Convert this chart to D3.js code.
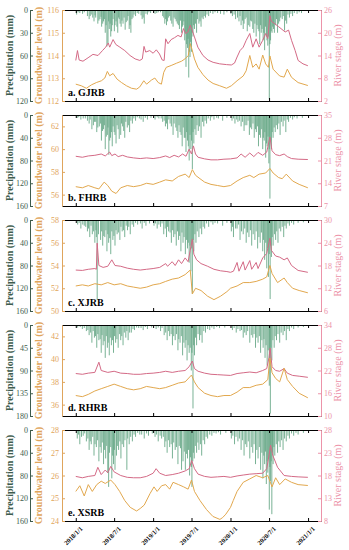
<!DOCTYPE html>
<html><head><meta charset="utf-8">
<script src="https://cdn.jsdelivr.net/npm/d3@7"></script>
<style>
body{margin:0;background:#fff}
svg{display:block;font-family:"Liberation Serif","Times New Roman",serif}
</style></head><body>
<svg id="chart" width="349" height="550"></svg>
<script>
const xTickLabels = ["2018/1/1","2018/7/1","2019/1/1","2019/7/1","2020/1/1","2020/7/1","2021/1/1"];
const panelNames = ["a. GJRB","b. FHRB","c. XJRB","d. RHRB","e. XSRB"];
const precipTicks = [[0,30,60,90,120],[0,40,80,120,160],[0,40,80,120,160],[0,45,90,135,180],[0,40,80,120,160]];
const gwDomains = [[112,116],[55,63],[50,58],[35,43],[24,28]];
const gwTicks = [[112,113,114,115,116],[56,58,60,62],[50,52,54,56,58],[36,38,40,42],[24,25,26,27,28]];
const rsTicks = [[2,8,14,20,26],[7,14,21,28,35],[6,12,18,24,30],[10,16,22,28,34],[8,13,18,23,28]];

// ---- a. GJRB ----
const rainA = [["2018-01-05",6],["2018-01-20",4],["2018-02-10",3],["2018-02-25",8],["2018-03-05",12],["2018-03-15",6],["2018-03-28",15],["2018-04-05",10],["2018-04-15",18],["2018-04-25",12],["2018-05-03",22],["2018-05-12",15],["2018-05-20",30],["2018-05-28",48],["2018-06-02",44],["2018-06-08",25],["2018-06-15",35],["2018-06-22",20],["2018-07-02",28],["2018-07-10",15],["2018-07-18",30],["2018-07-25",12],["2018-08-03",22],["2018-08-12",18],["2018-08-22",26],["2018-09-01",14],["2018-09-10",25],["2018-09-18",30],["2018-09-28",10],["2018-10-10",8],["2018-10-25",5],["2018-11-10",12],["2018-11-20",18],["2018-12-05",6],["2018-12-20",4],
["2019-01-10",5],["2019-01-25",3],["2019-02-15",8],["2019-02-25",18],["2019-03-05",20],["2019-03-15",10],["2019-03-25",14],["2019-04-05",22],["2019-04-15",12],["2019-04-25",18],["2019-05-05",25],["2019-05-15",30],["2019-05-22",20],["2019-05-30",40],["2019-06-05",75],["2019-06-12",50],["2019-06-18",89],["2019-06-24",62],["2019-07-01",55],["2019-07-08",35],["2019-07-15",25],["2019-07-25",30],["2019-08-05",18],["2019-08-15",22],["2019-08-25",12],["2019-09-05",10],["2019-09-20",8],["2019-10-10",5],["2019-11-01",4],["2019-12-01",6],
["2020-01-10",8],["2020-01-25",12],["2020-02-10",15],["2020-02-20",20],["2020-03-01",25],["2020-03-10",12],["2020-03-20",28],["2020-04-01",22],["2020-04-10",15],["2020-04-20",30],["2020-05-01",35],["2020-05-10",25],["2020-05-18",45],["2020-05-25",30],["2020-06-03",40],["2020-06-10",53],["2020-06-18",35],["2020-06-25",47],["2020-07-02",118],["2020-07-08",40],["2020-07-15",30],["2020-07-22",25],["2020-08-01",20],["2020-08-10",30],["2020-08-20",15],["2020-09-01",12],["2020-09-12",27],["2020-09-22",18],["2020-10-05",10],["2020-10-20",8],["2020-11-10",5],["2020-12-01",4],
["2018-01-12",3],["2018-02-02",5],["2018-03-10",8],["2018-03-22",10],["2018-04-02",7],["2018-04-20",14],["2018-04-30",9],["2018-05-08",18],["2018-05-16",12],["2018-05-24",20],["2018-06-05",15],["2018-06-12",18],["2018-06-19",28],["2018-06-26",12],["2018-07-05",20],["2018-07-14",22],["2018-07-22",10],["2018-07-29",18],["2018-08-07",14],["2018-08-17",10],["2018-08-27",16],["2018-09-05",8],["2018-09-14",20],["2018-09-23",12],["2018-10-03",6],["2018-10-18",4],["2018-11-05",7],["2018-11-15",10],["2018-11-28",5],["2018-12-12",3],
["2019-01-18",4],["2019-02-05",3],["2019-02-20",10],["2019-03-01",12],["2019-03-10",15],["2019-03-20",8],["2019-03-30",18],["2019-04-10",10],["2019-04-20",15],["2019-04-30",20],["2019-05-10",14],["2019-05-19",22],["2019-05-26",15],["2019-06-02",30],["2019-06-08",45],["2019-06-15",38],["2019-06-21",55],["2019-06-27",42],["2019-07-04",30],["2019-07-11",20],["2019-07-20",18],["2019-07-29",12],["2019-08-10",15],["2019-08-20",10],["2019-08-30",8],["2019-09-12",6],["2019-09-28",4],["2019-10-20",3],["2019-11-15",5],["2019-12-15",3],
["2020-01-03",5],["2020-01-18",6],["2020-02-03",10],["2020-02-15",8],["2020-02-27",14],["2020-03-05",18],["2020-03-15",10],["2020-03-25",20],["2020-04-05",14],["2020-04-15",25],["2020-04-25",18],["2020-05-05",20],["2020-05-14",28],["2020-05-22",20],["2020-05-29",25],["2020-06-06",30],["2020-06-14",22],["2020-06-21",40],["2020-06-28",35],["2020-07-05",45],["2020-07-11",28],["2020-07-18",22],["2020-07-26",30],["2020-08-05",12],["2020-08-15",18],["2020-08-25",10],["2020-09-06",8],["2020-09-17",14],["2020-09-28",6],["2020-10-12",5],["2020-10-28",4],["2020-11-20",3]];
const gwA = [["2018-01-01",112.74],["2018-01-27",112.67],["2018-02-20",112.56],["2018-03-16",112.71],["2018-04-08",112.81],["2018-05-02",112.89],["2018-05-18",113.01],["2018-05-30",113.3],["2018-06-10",113.11],["2018-06-26",113.21],["2018-07-15",112.96],["2018-08-05",112.81],["2018-08-28",112.67],["2018-09-21",112.56],["2018-10-15",112.52],["2018-10-30",112.62],["2018-11-18",112.89],["2018-12-01",112.74],["2018-12-24",112.92],["2019-01-09",113.01],["2019-01-25",112.81],["2019-02-09",112.74],["2019-02-20",113.26],["2019-03-04",113.48],["2019-03-27",113.56],["2019-04-21",113.66],["2019-05-15",113.75],["2019-05-31",113.85],["2019-06-16",114.0],["2019-06-25",114.52],["2019-07-04",114.25],["2019-07-15",113.85],["2019-07-31",113.48],["2019-08-24",113.16],["2019-09-17",112.92],["2019-10-11",112.77],["2019-11-11",112.67],["2019-12-13",112.56],["2020-01-05",112.67],["2020-02-01",112.89],["2020-03-01",113.1],["2020-03-15",113.33],["2020-04-01",114.0],["2020-04-15",113.48],["2020-05-01",113.63],["2020-05-15",113.4],["2020-06-01",114.02],["2020-06-15",113.63],["2020-06-28",113.48],["2020-07-05",113.98],["2020-07-20",113.4],["2020-08-20",113.1],["2020-09-10",113.05],["2020-09-25",113.4],["2020-10-15",113.04],["2020-11-15",112.81],["2020-12-31",112.68]];
const riverA = [["2018-01-01",12.7],["2018-01-09",15.3],["2018-01-17",12.8],["2018-02-04",12.5],["2018-02-28",13.4],["2018-03-23",14.3],["2018-04-16",14.0],["2018-05-07",15.3],["2018-05-22",16.2],["2018-06-03",17.3],["2018-06-10",16.2],["2018-06-26",18.2],["2018-07-09",16.9],["2018-07-28",16.2],["2018-08-20",15.3],["2018-09-14",14.0],["2018-10-08",13.1],["2018-10-30",12.7],["2018-11-11",13.1],["2018-11-19",16.4],["2018-11-27",14.9],["2018-12-16",15.3],["2019-01-01",14.6],["2019-01-16",15.5],["2019-01-31",14.4],["2019-02-13",12.8],["2019-02-22",12.7],["2019-03-01",18.4],["2019-03-12",17.1],["2019-03-27",18.2],["2019-04-12",18.7],["2019-04-28",19.3],["2019-05-13",18.9],["2019-05-24",21.1],["2019-06-03",19.8],["2019-06-14",20.2],["2019-06-25",22.0],["2019-07-04",20.7],["2019-07-15",18.9],["2019-07-31",16.2],["2019-08-24",14.0],["2019-09-17",12.8],["2019-10-11",12.2],["2019-11-11",11.8],["2019-12-13",11.6],["2020-01-05",11.5],["2020-01-20",12.0],["2020-02-01",13.6],["2020-02-15",15.3],["2020-03-01",16.2],["2020-03-15",18.0],["2020-04-01",19.8],["2020-04-15",16.2],["2020-05-01",18.4],["2020-05-15",16.2],["2020-06-01",18.0],["2020-06-15",19.8],["2020-06-25",18.5],["2020-07-05",24.5],["2020-07-12",23.0],["2020-07-25",22.5],["2020-08-15",21.6],["2020-09-15",20.2],["2020-10-01",20.7],["2020-10-15",18.0],["2020-11-01",15.3],["2020-11-15",12.7],["2020-12-08",11.8],["2020-12-31",11.3]];

// ---- b. FHRB ----
const rainB = [["2018-01-08",5],["2018-01-25",8],["2018-02-15",6],["2018-03-05",15],["2018-03-18",25],["2018-03-30",12],["2018-04-10",30],["2018-04-22",20],["2018-05-02",45],["2018-05-12",25],["2018-05-20",60],["2018-05-30",35],["2018-06-06",70],["2018-06-14",40],["2018-06-22",55],["2018-07-01",30],["2018-07-10",50],["2018-07-20",25],["2018-08-01",35],["2018-08-10",20],["2018-08-20",40],["2018-09-01",22],["2018-09-12",30],["2018-09-25",15],["2018-10-10",10],["2018-10-28",6],["2018-11-15",12],["2018-12-05",8],["2018-12-22",5],
["2019-01-10",8],["2019-01-28",6],["2019-02-15",12],["2019-02-28",20],["2019-03-10",25],["2019-03-22",15],["2019-04-05",35],["2019-04-18",22],["2019-04-28",40],["2019-05-08",30],["2019-05-18",55],["2019-05-28",40],["2019-06-05",65],["2019-06-12",45],["2019-06-20",80],["2019-06-28",60],["2019-07-05",95],["2019-07-12",50],["2019-07-22",35],["2019-08-02",28],["2019-08-15",40],["2019-08-28",20],["2019-09-10",15],["2019-09-28",10],["2019-10-15",8],["2019-11-05",6],["2019-11-25",10],["2019-12-15",5],
["2020-01-08",10],["2020-01-22",15],["2020-02-05",12],["2020-02-20",20],["2020-03-05",28],["2020-03-18",18],["2020-03-30",35],["2020-04-10",25],["2020-04-22",40],["2020-05-02",30],["2020-05-12",55],["2020-05-22",40],["2020-06-01",60],["2020-06-08",45],["2020-06-15",75],["2020-06-22",55],["2020-06-30",85],["2020-07-05",147],["2020-07-12",60],["2020-07-20",40],["2020-07-30",30],["2020-08-10",25],["2020-08-22",35],["2020-09-05",20],["2020-09-18",30],["2020-10-01",12],["2020-10-20",8],["2020-11-10",6],["2020-12-05",5],
["2018-01-15",4],["2018-02-05",6],["2018-02-25",10],["2018-03-10",8],["2018-03-25",18],["2018-04-05",12],["2018-04-15",22],["2018-04-28",15],["2018-05-07",28],["2018-05-16",18],["2018-05-25",38],["2018-06-02",22],["2018-06-10",45],["2018-06-18",30],["2018-06-26",20],["2018-07-05",35],["2018-07-15",18],["2018-07-25",42],["2018-08-05",15],["2018-08-15",28],["2018-08-25",12],["2018-09-06",18],["2018-09-18",10],["2018-10-02",6],["2018-10-18",4],["2018-11-05",8],["2018-11-25",5],
["2019-01-20",4],["2019-02-08",6],["2019-02-22",10],["2019-03-05",15],["2019-03-16",8],["2019-03-28",20],["2019-04-10",15],["2019-04-23",28],["2019-05-03",18],["2019-05-13",35],["2019-05-23",22],["2019-06-01",40],["2019-06-08",30],["2019-06-16",55],["2019-06-24",35],["2019-07-01",45],["2019-07-08",30],["2019-07-17",25],["2019-07-27",18],["2019-08-08",20],["2019-08-22",12],["2019-09-03",10],["2019-09-18",6],["2019-10-05",4],["2019-10-28",5],
["2020-01-15",6],["2020-01-30",8],["2020-02-12",10],["2020-02-27",12],["2020-03-10",18],["2020-03-24",10],["2020-04-04",22],["2020-04-16",15],["2020-04-28",25],["2020-05-07",20],["2020-05-17",35],["2020-05-27",25],["2020-06-04",40],["2020-06-11",30],["2020-06-19",50],["2020-06-26",38],["2020-07-02",60],["2020-07-09",45],["2020-07-16",30],["2020-07-25",22],["2020-08-04",18],["2020-08-16",15],["2020-08-28",12],["2020-09-10",10],["2020-09-25",8],["2020-10-10",5],["2020-10-28",4]];
const gwB = [["2018-01-01",56.7],["2018-02-01",56.6],["2018-03-01",56.8],["2018-04-01",56.6],["2018-04-20",56.5],["2018-05-15",57.1],["2018-06-01",56.8],["2018-06-20",56.3],["2018-07-10",56.1],["2018-08-01",56.6],["2018-09-01",56.8],["2018-10-01",56.7],["2018-11-01",56.8],["2018-12-01",57.0],["2019-01-01",56.9],["2019-02-01",57.1],["2019-03-01",57.3],["2019-04-01",57.2],["2019-05-01",57.6],["2019-06-01",57.8],["2019-06-20",57.5],["2019-07-05",58.2],["2019-07-20",57.7],["2019-08-10",57.4],["2019-09-01",57.1],["2019-10-01",56.9],["2019-11-01",56.8],["2019-12-01",56.7],["2020-01-01",56.8],["2020-02-01",57.2],["2020-03-01",57.5],["2020-04-01",57.7],["2020-04-20",57.5],["2020-05-15",57.8],["2020-06-15",57.9],["2020-07-05",58.3],["2020-07-20",57.9],["2020-08-15",57.5],["2020-09-01",57.4],["2020-09-20",57.8],["2020-10-20",57.2],["2020-11-20",56.9],["2020-12-31",56.6]];
const riverB = [["2018-01-01",22.3],["2018-02-01",22.0],["2018-03-01",22.4],["2018-04-01",22.6],["2018-05-01",23.0],["2018-05-20",22.4],["2018-06-10",23.6],["2018-06-20",22.5],["2018-07-05",23.0],["2018-07-20",22.2],["2018-08-10",22.6],["2018-09-01",22.1],["2018-10-01",21.8],["2018-11-01",21.6],["2018-12-01",21.8],["2019-01-01",21.6],["2019-02-01",21.9],["2019-03-01",22.4],["2019-03-20",21.9],["2019-04-10",22.6],["2019-05-01",22.1],["2019-05-20",23.0],["2019-06-05",22.3],["2019-06-20",24.5],["2019-07-01",23.0],["2019-07-10",25.5],["2019-07-20",23.0],["2019-08-01",22.0],["2019-09-01",21.5],["2019-10-01",21.2],["2019-11-01",21.2],["2019-12-01",21.4],["2020-01-01",21.5],["2020-02-01",21.8],["2020-02-20",23.0],["2020-03-10",22.0],["2020-04-01",23.3],["2020-04-20",22.2],["2020-05-10",23.5],["2020-06-01",22.6],["2020-06-20",23.6],["2020-07-05",28.2],["2020-07-15",24.0],["2020-08-01",22.8],["2020-08-20",22.5],["2020-09-10",23.0],["2020-09-25",22.2],["2020-10-15",21.6],["2020-11-15",21.4],["2020-12-31",21.3]];

// ---- c. XJRB ----
const rainC = [["2018-01-10",8],["2018-01-25",15],["2018-02-10",10],["2018-02-25",20],["2018-03-08",30],["2018-03-20",25],["2018-04-01",40],["2018-04-08",30],["2018-04-12",140],["2018-04-28",35],["2018-05-08",45],["2018-05-18",30],["2018-05-28",55],["2018-06-05",40],["2018-06-15",60],["2018-06-25",35],["2018-07-05",45],["2018-07-15",25],["2018-07-28",35],["2018-08-08",20],["2018-08-20",30],["2018-09-02",18],["2018-09-15",25],["2018-10-01",12],["2018-10-20",8],["2018-11-10",15],["2018-11-28",10],["2018-12-15",6],
["2019-01-05",10],["2019-01-20",15],["2019-02-05",12],["2019-02-20",25],["2019-03-05",30],["2019-03-15",20],["2019-03-28",40],["2019-04-08",30],["2019-04-20",45],["2019-05-01",35],["2019-05-12",55],["2019-05-22",40],["2019-06-02",60],["2019-06-12",50],["2019-06-20",75],["2019-06-28",90],["2019-07-05",130],["2019-07-12",55],["2019-07-22",40],["2019-08-05",30],["2019-08-18",25],["2019-09-01",15],["2019-09-20",12],["2019-10-10",8],["2019-11-01",6],["2019-11-25",10],["2019-12-15",5],
["2020-01-05",20],["2020-01-15",30],["2020-02-01",15],["2020-02-15",35],["2020-03-01",25],["2020-03-15",40],["2020-03-28",30],["2020-04-10",45],["2020-04-25",35],["2020-05-08",50],["2020-05-20",40],["2020-06-01",55],["2020-06-10",70],["2020-06-20",85],["2020-06-28",100],["2020-07-06",139],["2020-07-12",65],["2020-07-20",45],["2020-08-01",35],["2020-08-12",40],["2020-08-25",20],["2020-09-08",30],["2020-09-20",15],["2020-10-05",10],["2020-10-25",8],["2020-11-15",5],["2020-12-10",4],
["2018-01-17",5],["2018-02-03",8],["2018-02-17",12],["2018-03-02",15],["2018-03-14",10],["2018-03-26",20],["2018-04-06",18],["2018-04-18",25],["2018-05-03",20],["2018-05-13",28],["2018-05-23",18],["2018-06-01",25],["2018-06-10",32],["2018-06-20",20],["2018-06-30",28],["2018-07-10",18],["2018-07-21",22],["2018-08-02",12],["2018-08-14",18],["2018-08-27",10],["2018-09-08",12],["2018-09-24",8],["2018-10-10",5],["2018-11-02",6],["2018-11-20",5],
["2019-01-12",6],["2019-01-28",8],["2019-02-12",6],["2019-02-27",15],["2019-03-10",12],["2019-03-22",22],["2019-04-03",18],["2019-04-14",25],["2019-04-26",20],["2019-05-06",28],["2019-05-17",22],["2019-05-27",30],["2019-06-07",35],["2019-06-16",40],["2019-06-24",45],["2019-07-02",50],["2019-07-09",35],["2019-07-17",25],["2019-07-28",20],["2019-08-11",15],["2019-08-25",12],["2019-09-10",6],["2019-10-01",4],["2019-10-20",5],
["2020-01-10",12],["2020-01-25",15],["2020-02-08",8],["2020-02-22",20],["2020-03-08",15],["2020-03-21",22],["2020-04-04",18],["2020-04-17",25],["2020-05-01",20],["2020-05-14",30],["2020-05-26",22],["2020-06-05",35],["2020-06-15",40],["2020-06-24",50],["2020-07-02",60],["2020-07-09",45],["2020-07-16",30],["2020-07-27",25],["2020-08-06",20],["2020-08-18",15],["2020-09-01",12],["2020-09-14",10],["2020-09-28",6],["2020-10-15",5]];
const gwC = [["2018-01-01",52.2],["2018-02-01",52.3],["2018-03-01",52.2],["2018-04-01",52.4],["2018-05-01",52.3],["2018-06-01",52.5],["2018-07-01",52.3],["2018-08-01",52.4],["2018-09-01",52.2],["2018-10-01",52.1],["2018-11-01",52.0],["2018-12-01",52.1],["2019-01-01",52.3],["2019-02-01",52.4],["2019-03-01",52.6],["2019-04-01",52.8],["2019-05-01",52.9],["2019-06-01",53.2],["2019-06-25",53.6],["2019-07-05",51.5],["2019-07-20",52.0],["2019-08-15",51.8],["2019-09-15",51.3],["2019-10-15",51.0],["2019-11-15",51.3],["2019-12-15",51.7],["2020-01-01",52.0],["2020-02-01",52.2],["2020-03-01",52.5],["2020-04-01",52.5],["2020-05-01",52.6],["2020-06-01",52.8],["2020-06-20",53.0],["2020-07-05",54.0],["2020-07-15",53.3],["2020-08-10",52.5],["2020-09-10",52.9],["2020-09-25",52.5],["2020-10-20",52.0],["2020-11-20",51.8],["2020-12-31",51.6]];
const riverC = [["2018-01-01",16.8],["2018-02-01",16.7],["2018-03-01",17.0],["2018-04-01",17.2],["2018-04-08",17.0],["2018-04-12",23.9],["2018-04-20",18.0],["2018-05-10",17.5],["2018-06-01",17.8],["2018-06-20",19.5],["2018-07-05",18.0],["2018-08-01",17.8],["2018-09-01",17.3],["2018-10-01",17.0],["2018-11-01",16.8],["2018-12-01",17.0],["2019-01-01",17.2],["2019-02-01",17.5],["2019-03-01",18.5],["2019-03-10",17.8],["2019-04-01",19.0],["2019-04-15",18.0],["2019-05-01",19.5],["2019-05-15",18.5],["2019-06-01",20.0],["2019-06-15",19.0],["2019-06-25",22.0],["2019-07-05",25.0],["2019-07-12",21.0],["2019-07-25",19.5],["2019-08-15",18.5],["2019-09-15",17.8],["2019-10-15",17.0],["2019-11-15",16.6],["2019-12-15",16.4],["2020-01-01",16.2],["2020-01-15",16.5],["2020-02-01",18.8],["2020-02-10",16.5],["2020-03-01",19.0],["2020-03-10",16.8],["2020-04-01",19.3],["2020-04-10",17.0],["2020-05-01",18.8],["2020-05-10",17.2],["2020-06-01",20.0],["2020-06-20",21.2],["2020-07-05",25.2],["2020-07-12",22.0],["2020-08-01",20.5],["2020-08-20",20.2],["2020-09-10",19.5],["2020-09-25",20.0],["2020-10-15",18.0],["2020-11-15",16.7],["2020-12-31",16.2]];

// ---- d. RHRB ----
const rainD = [["2018-01-10",5],["2018-02-01",8],["2018-02-20",12],["2018-03-05",20],["2018-03-18",35],["2018-03-30",25],["2018-04-10",45],["2018-04-20",30],["2018-05-01",55],["2018-05-10",40],["2018-05-20",65],["2018-05-30",45],["2018-06-08",60],["2018-06-18",40],["2018-06-28",55],["2018-07-08",35],["2018-07-20",45],["2018-08-01",30],["2018-08-12",40],["2018-08-25",25],["2018-09-05",30],["2018-09-20",15],["2018-10-05",10],["2018-10-25",6],["2018-11-15",10],["2018-12-05",8],["2018-12-25",5],
["2019-01-15",8],["2019-02-05",12],["2019-02-22",20],["2019-03-08",30],["2019-03-20",22],["2019-04-02",40],["2019-04-15",30],["2019-04-28",50],["2019-05-08",35],["2019-05-20",60],["2019-06-01",45],["2019-06-10",70],["2019-06-20",55],["2019-06-30",90],["2019-07-08",165],["2019-07-15",60],["2019-07-25",40],["2019-08-08",30],["2019-08-20",35],["2019-09-05",15],["2019-09-25",10],["2019-10-15",8],["2019-11-10",6],["2019-12-05",5],
["2020-01-10",10],["2020-01-28",15],["2020-02-15",12],["2020-03-01",25],["2020-03-15",20],["2020-04-01",35],["2020-04-15",25],["2020-04-28",45],["2020-05-10",35],["2020-05-22",55],["2020-06-03",45],["2020-06-12",65],["2020-06-22",80],["2020-07-02",120],["2020-07-07",175],["2020-07-14",70],["2020-07-25",45],["2020-08-05",30],["2020-08-20",35],["2020-09-05",20],["2020-09-20",30],["2020-10-05",12],["2020-10-25",8],["2020-11-15",5],["2020-12-10",4],
["2018-01-22",4],["2018-02-10",6],["2018-02-27",10],["2018-03-12",15],["2018-03-24",12],["2018-04-04",22],["2018-04-15",18],["2018-04-26",28],["2018-05-05",20],["2018-05-15",32],["2018-05-25",22],["2018-06-03",35],["2018-06-13",25],["2018-06-23",30],["2018-07-03",22],["2018-07-14",28],["2018-07-27",18],["2018-08-06",22],["2018-08-18",15],["2018-08-30",12],["2018-09-12",15],["2018-09-28",8],["2018-10-15",5],["2018-11-05",6],["2018-11-25",4],
["2019-01-25",5],["2019-02-12",6],["2019-03-01",15],["2019-03-14",12],["2019-03-27",18],["2019-04-08",22],["2019-04-21",18],["2019-05-02",28],["2019-05-14",22],["2019-05-26",35],["2019-06-05",30],["2019-06-15",40],["2019-06-25",45],["2019-07-03",55],["2019-07-11",40],["2019-07-20",25],["2019-08-01",18],["2019-08-14",20],["2019-08-28",12],["2019-09-15",8],["2019-10-05",5],["2019-10-28",4],
["2020-01-18",6],["2020-02-05",8],["2020-02-22",10],["2020-03-08",15],["2020-03-22",12],["2020-04-08",20],["2020-04-21",18],["2020-05-04",25],["2020-05-16",22],["2020-05-28",30],["2020-06-07",28],["2020-06-17",40],["2020-06-27",50],["2020-07-04",65],["2020-07-10",45],["2020-07-19",30],["2020-07-30",22],["2020-08-12",18],["2020-08-27",15],["2020-09-12",12],["2020-09-28",8],["2020-10-15",5]];
const gwD = [["2018-01-01",36.8],["2018-02-01",36.7],["2018-03-01",36.9],["2018-04-01",37.2],["2018-05-01",37.4],["2018-06-01",37.6],["2018-07-01",37.8],["2018-08-01",37.6],["2018-09-01",37.4],["2018-10-01",37.3],["2018-11-01",37.4],["2018-12-01",37.6],["2019-01-01",37.5],["2019-02-01",37.4],["2019-03-01",37.5],["2019-04-01",37.7],["2019-05-01",37.9],["2019-06-01",38.0],["2019-07-01",38.6],["2019-07-15",38.0],["2019-08-01",37.5],["2019-09-01",37.0],["2019-10-01",36.8],["2019-11-01",36.7],["2019-12-01",36.8],["2020-01-01",36.8],["2020-02-01",37.1],["2020-03-01",37.5],["2020-04-01",37.5],["2020-05-01",37.7],["2020-06-01",37.8],["2020-06-25",38.2],["2020-07-05",40.1],["2020-07-15",38.8],["2020-08-01",38.3],["2020-08-20",38.0],["2020-09-10",39.2],["2020-09-25",38.2],["2020-10-20",37.6],["2020-11-20",37.0],["2020-12-31",36.6]];
const riverD = [["2018-01-01",21.2],["2018-02-01",21.0],["2018-03-01",21.3],["2018-04-01",21.5],["2018-04-20",24.2],["2018-05-01",22.0],["2018-06-01",21.5],["2018-07-01",21.8],["2018-08-01",21.3],["2018-09-01",21.2],["2018-10-01",21.0],["2018-11-01",21.0],["2018-12-01",21.2],["2019-01-01",21.3],["2019-02-01",21.5],["2019-03-01",21.8],["2019-04-01",21.5],["2019-05-01",21.8],["2019-06-01",22.0],["2019-06-20",23.0],["2019-07-05",24.5],["2019-07-15",22.5],["2019-08-01",21.8],["2019-09-01",21.3],["2019-10-01",21.0],["2019-11-01",20.9],["2019-12-01",20.8],["2020-01-01",20.7],["2020-02-01",21.2],["2020-03-01",21.4],["2020-04-01",21.6],["2020-05-01",21.4],["2020-06-01",22.0],["2020-06-20",22.5],["2020-07-01",25.5],["2020-07-06",27.9],["2020-07-15",23.0],["2020-08-01",22.0],["2020-08-20",21.8],["2020-09-10",22.5],["2020-09-25",21.3],["2020-10-20",20.7],["2020-11-20",20.5],["2020-12-31",20.2]];

// ---- e. XSRB ----
const rainE = [["2018-01-08",15],["2018-01-20",25],["2018-02-05",10],["2018-02-20",20],["2018-03-05",35],["2018-03-15",25],["2018-03-28",45],["2018-04-08",30],["2018-04-20",55],["2018-05-01",40],["2018-05-12",60],["2018-05-22",50],["2018-06-01",75],["2018-06-05",100],["2018-06-20",85],["2018-06-28",60],["2018-07-05",70],["2018-07-12",45],["2018-07-22",35],["2018-08-02",50],["2018-08-15",30],["2018-08-30",70],["2018-09-10",25],["2018-09-25",20],["2018-10-10",12],["2018-10-30",8],["2018-11-20",15],["2018-12-10",10],["2018-12-28",6],
["2019-01-10",12],["2019-01-25",20],["2019-02-10",15],["2019-02-25",30],["2019-03-08",40],["2019-03-20",30],["2019-04-02",50],["2019-04-15",35],["2019-04-28",60],["2019-05-15",70],["2019-05-22",55],["2019-06-02",70],["2019-06-12",50],["2019-06-22",80],["2019-06-30",65],["2019-07-03",100],["2019-07-14",50],["2019-07-25",40],["2019-08-05",35],["2019-08-18",45],["2019-09-01",25],["2019-09-15",15],["2019-10-05",10],["2019-10-25",6],["2019-11-15",8],["2019-12-10",5],
["2020-01-05",15],["2020-01-20",25],["2020-02-05",20],["2020-02-20",35],["2020-03-05",45],["2020-03-18",30],["2020-04-01",50],["2020-04-15",40],["2020-04-28",60],["2020-05-10",50],["2020-05-22",70],["2020-06-02",85],["2020-06-10",60],["2020-06-18",95],["2020-06-25",75],["2020-07-02",140],["2020-07-08",90],["2020-07-14",148],["2020-07-20",60],["2020-07-28",45],["2020-08-10",40],["2020-08-22",30],["2020-09-05",35],["2020-09-20",20],["2020-10-05",15],["2020-10-25",10],["2020-11-15",8],["2020-12-10",5],
["2018-01-14",8],["2018-01-28",12],["2018-02-12",6],["2018-02-27",15],["2018-03-10",20],["2018-03-22",12],["2018-04-02",25],["2018-04-14",18],["2018-04-26",30],["2018-05-06",22],["2018-05-17",35],["2018-05-27",28],["2018-06-09",40],["2018-06-15",30],["2018-06-24",45],["2018-07-02",35],["2018-07-16",28],["2018-07-28",20],["2018-08-08",25],["2018-08-21",18],["2018-09-03",15],["2018-09-17",12],["2018-10-03",8],["2018-10-20",5],["2018-11-08",8],["2018-12-01",6],
["2019-01-17",8],["2019-02-03",10],["2019-02-18",12],["2019-03-02",20],["2019-03-14",18],["2019-03-27",25],["2019-04-08",22],["2019-04-21",30],["2019-05-04",28],["2019-05-10",32],["2019-05-28",38],["2019-06-07",42],["2019-06-17",35],["2019-06-26",48],["2019-07-07",55],["2019-07-10",40],["2019-07-19",28],["2019-07-31",22],["2019-08-12",25],["2019-08-25",18],["2019-09-08",12],["2019-09-25",8],["2019-10-15",5],["2019-11-05",4],
["2020-01-12",10],["2020-01-27",12],["2020-02-12",15],["2020-02-27",18],["2020-03-11",25],["2020-03-25",20],["2020-04-08",30],["2020-04-21",25],["2020-05-04",35],["2020-05-16",30],["2020-05-28",40],["2020-06-06",45],["2020-06-14",38],["2020-06-22",55],["2020-06-29",50],["2020-07-05",65],["2020-07-11",55],["2020-07-17",40],["2020-07-24",30],["2020-08-04",25],["2020-08-16",20],["2020-08-29",18],["2020-09-12",15],["2020-09-28",10],["2020-10-15",6],["2020-11-05",5]];
const gwE = [["2018-01-01",25.3],["2018-01-20",25.55],["2018-02-10",25.1],["2018-03-01",25.6],["2018-03-20",25.3],["2018-04-10",25.6],["2018-05-01",25.75],["2018-05-20",25.65],["2018-06-15",25.8],["2018-07-05",25.6],["2018-07-27",25.3],["2018-08-20",24.9],["2018-09-15",24.6],["2018-10-15",24.44],["2018-11-01",24.55],["2018-11-20",24.7],["2018-12-17",25.2],["2019-01-05",25.5],["2019-01-20",25.3],["2019-02-10",25.55],["2019-03-01",25.6],["2019-03-20",25.4],["2019-04-05",25.7],["2019-05-01",25.6],["2019-05-25",25.5],["2019-06-15",25.4],["2019-07-01",25.8],["2019-07-15",25.3],["2019-08-10",24.9],["2019-09-10",24.5],["2019-10-10",24.2],["2019-11-12",24.07],["2019-11-25",24.15],["2019-12-10",24.3],["2020-01-01",24.6],["2020-01-14",24.9],["2020-02-01",25.3],["2020-03-01",25.7],["2020-04-01",25.85],["2020-05-01",26.0],["2020-06-01",25.9],["2020-06-25",26.0],["2020-07-15",25.5],["2020-08-01",25.9],["2020-08-20",25.6],["2020-09-15",25.85],["2020-10-15",25.7],["2020-11-15",25.6],["2020-12-31",25.56]];
const riverE = [["2018-01-01",17.8],["2018-02-01",17.5],["2018-03-01",17.8],["2018-04-01",18.0],["2018-04-15",19.8],["2018-05-01",18.2],["2018-05-20",19.2],["2018-06-01",18.6],["2018-06-15",20.0],["2018-07-01",18.8],["2018-08-01",18.0],["2018-09-01",17.6],["2018-10-01",17.5],["2018-11-01",17.5],["2018-12-01",17.8],["2019-01-01",18.5],["2019-01-15",19.5],["2019-02-01",18.5],["2019-03-01",18.0],["2019-04-01",18.2],["2019-05-01",18.5],["2019-06-01",19.0],["2019-06-20",19.5],["2019-07-02",21.3],["2019-07-15",19.5],["2019-08-01",18.3],["2019-09-01",17.8],["2019-10-01",17.6],["2019-11-01",17.7],["2019-12-01",17.8],["2020-01-01",17.6],["2020-02-01",17.9],["2020-03-01",18.1],["2020-04-01",18.3],["2020-05-01",18.4],["2020-06-01",18.5],["2020-06-20",19.5],["2020-07-01",22.5],["2020-07-08",24.7],["2020-07-18",22.5],["2020-08-10",19.8],["2020-09-10",18.0],["2020-10-15",17.8],["2020-11-15",17.7],["2020-12-31",17.6]];

const rains = [rainA, rainB, rainC, rainD, rainE];
const gws = [gwA, gwB, gwC, gwD, gwE];
const rivers = [riverA, riverB, riverC, riverD, riverE];

// ---- drawing ----
const parse = d3.timeParse("%Y-%m-%d");
const svg = d3.select("#chart");
const L = 62, R = 321;
const tops = [10, 115, 220, 325, 430], PH = 91;
const cRain = "#62a582", cGw = "#e2a84e", cRiv = "#d46a86";
const cRainAx = "#3e5c4d", cGwAx = "#dfa55c", cRivAx = "#ec93a9";
const fmt = d3.format("~g");

const x = d3.scaleTime().domain([parse("2017-10-28"), parse("2021-03-03")]).range([L, R]);
const xTicks = xTickLabels.map(s => { const p = s.split("/"); return new Date(+p[0], +p[1]-1, +p[2]); });

tops.forEach((top, i) => {
  const bot = top + PH;
  const pMax = precipTicks[i][precipTicks[i].length-1];
  const yP = d3.scaleLinear().domain([0, pMax]).range([top, bot]);
  const yG = d3.scaleLinear().domain(gwDomains[i]).range([bot, top]);
  const rt = rsTicks[i];
  const yR = d3.scaleLinear().domain([rt[0], rt[rt.length-1]]).range([bot, top]);
  const g = svg.append("g");

  g.append("g").selectAll("rect").data(rains[i]).join("rect")
    .attr("x", d => x(parse(d[0])) - 0.5).attr("width", 1)
    .attr("y", top).attr("height", d => yP(d[1]) - top)
    .attr("fill", cRain).attr("opacity", 0.85);

  const line = (ys) => d3.line().x(d => x(parse(d[0]))).y(d => ys(d[1]));
  g.append("path").datum(rivers[i]).attr("d", line(yR)).attr("fill", "none")
    .attr("stroke", cRiv).attr("stroke-width", 1);
  g.append("path").datum(gws[i]).attr("d", line(yG)).attr("fill", "none")
    .attr("stroke", cGw).attr("stroke-width", 1);

  const xb = g.append("g").attr("transform", `translate(0,${bot})`)
    .call(d3.axisBottom(x).tickValues(xTicks).tickSize(-3).tickSizeOuter(0).tickFormat(""));
  const xt = g.append("g").attr("transform", `translate(0,${top})`)
    .call(d3.axisTop(x).tickValues(xTicks).tickSize(-3).tickSizeOuter(0).tickFormat(""));
  [xb, xt].forEach(a => { a.select(".domain").attr("stroke", "#000").attr("stroke-width", 1.2); a.selectAll(".tick line").attr("stroke", "#000"); });

  const ap = g.append("g").attr("transform", "translate(30,0)")
    .call(d3.axisLeft(yP).tickValues(precipTicks[i]).tickFormat(fmt).tickSize(-3).tickSizeOuter(0).tickPadding(2));
  ap.selectAll("path,line").attr("stroke", cRainAx);
  ap.selectAll("text").attr("fill", cRainAx).style("font-size", "8px").style("font-family", "Liberation Serif");

  const ag = g.append("g").attr("transform", `translate(${L},0)`)
    .call(d3.axisLeft(yG).tickValues(gwTicks[i]).tickFormat(fmt).tickSize(-3).tickSizeOuter(0).tickPadding(3));
  ag.selectAll("path,line").attr("stroke", cGwAx);
  ag.selectAll("text").attr("fill", cGwAx).style("font-size", "8px").style("font-family", "Liberation Serif");

  const ar = g.append("g").attr("transform", `translate(${R},0)`)
    .call(d3.axisRight(yR).tickValues(rt).tickFormat(fmt).tickSize(-3).tickSizeOuter(0).tickPadding(3));
  ar.selectAll("path,line").attr("stroke", cRivAx);
  ar.selectAll("text").attr("fill", cRivAx).style("font-size", "8px").style("font-family", "Liberation Serif");

  const mid = top + PH/2;
  g.append("text").attr("transform", `translate(13,${mid}) rotate(-90)`).attr("text-anchor", "middle")
    .style("font-size", "10px").style("font-weight", "bold").attr("fill", cRainAx).text("Precipitation (mm)");
  g.append("text").attr("transform", `translate(42,${mid}) rotate(-90)`).attr("text-anchor", "middle")
    .style("font-size", "10px").style("font-weight", "bold").attr("fill", cGwAx).text("Groundwater level (m)");
  g.append("text").attr("transform", `translate(341,${mid}) rotate(-90)`).attr("text-anchor", "middle")
    .style("font-size", "10px").attr("fill", cRivAx).text("River stage (m)");

  g.append("text").attr("x", 68).attr("y", bot - 5).style("font-size", "10px").style("font-weight", "bold")
    .attr("fill", "#000").text(panelNames[i]);

  if (i === tops.length - 1) {
    g.selectAll(".xl").data(xTicks).join("text")
      .attr("transform", (d) => `translate(${x(d) + 4},${bot + 5}) rotate(-45)`)
      .attr("text-anchor", "end").attr("dy", "0.7em")
      .style("font-size", "6.5px").style("font-weight", "bold").attr("fill", "#000")
      .text((d, k) => xTickLabels[k]);
  }
});
</script></body></html>
